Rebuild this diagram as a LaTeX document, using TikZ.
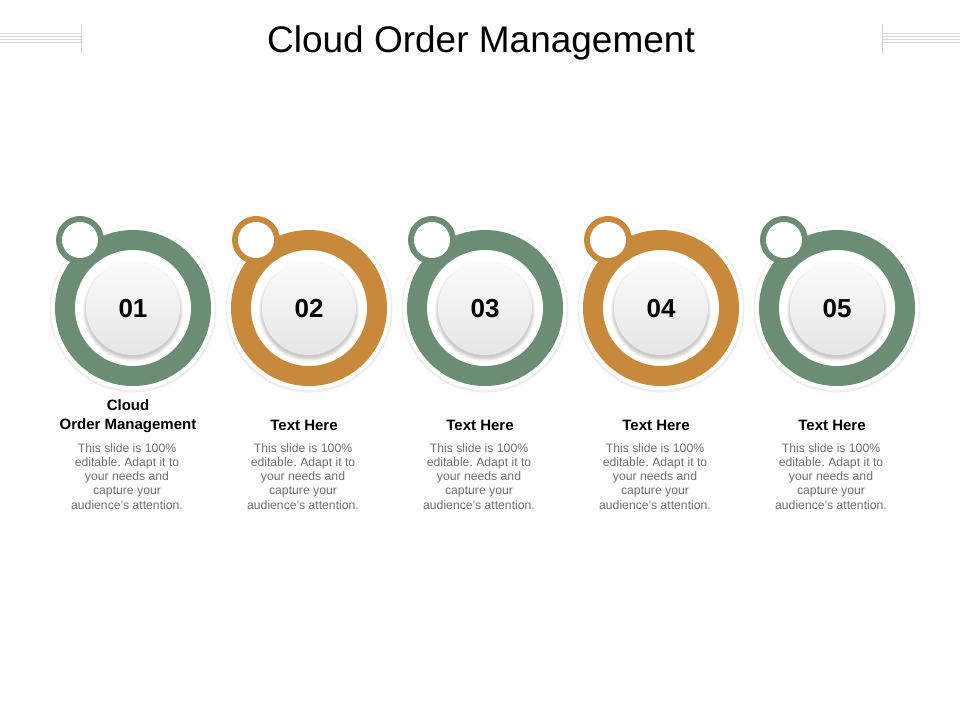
\documentclass[tikz,border=0pt]{standalone}
\usepackage{fontspec}
\setmainfont{Liberation Sans}
\usetikzlibrary{calc}
\definecolor{cgreen}{HTML}{6A8D73}
\definecolor{corange}{HTML}{C8893A}
\definecolor{bodygray}{HTML}{6E6E6E}
\begin{document}
\frenchspacing
\begin{tikzpicture}[x=1pt,y=-1pt,
  title/.style={font=\fontsize{37}{44}\selectfont, anchor=base, inner sep=0pt},
  num/.style={font=\bfseries\fontsize{26}{30}\selectfont, inner sep=0pt},
  head/.style={font=\bfseries\fontsize{15}{19}\selectfont, align=center, anchor=north, inner sep=0pt},
  body/.style={font=\fontsize{12.2}{14.3}\selectfont, text=bodygray, align=center, anchor=north, inner sep=0pt},
  deco/.style={draw=gray!30, line width=0.8pt}]
\useasboundingbox (0,0) rectangle (960,720);
\fill[white] (0,0) rectangle (960,720);

% decorative lines
\foreach \yy in {33,36,39,42} {
  \draw[deco] (0,\yy) -- (81,\yy);
  \draw[deco] (882,\yy) -- (960,\yy);
}
\draw[draw=gray!35, line width=0.8pt] (81,24) -- (81,54);
\draw[draw=gray!35, line width=0.8pt] (882,24) -- (882,54);

\node[title] (t) at (481,52) {Cloud Order Management};

\foreach \i/\x/\c in {1/133/cgreen,2/309/corange,3/485/cgreen,4/661/corange,5/837/cgreen} {
  \fill[gray!13] (\x,309) circle (83.5);
  \fill[white] (\x,308) circle (82);
  \fill[\c] (\x,308) circle (78);
  \fill[white] (\x,308) circle (58);
  \foreach \k in {1,...,6} {
    \fill[black,opacity=0.035] (\x,311) circle ({46+\k*0.7});
  }
  \shade[top color=gray!3, bottom color=gray!20] (\x,308) circle (47);
  \fill[\c] ($(\x,308)+(-53,-68)$) circle (24);
  \fill[white] ($(\x,308)+(-53,-68)$) circle (18);
  \node[num] (n\i) at (\x,309) {0\i};
  \node[body] (b\i) at ($(\x,443)+(-6,0)$) {This slide is 100\%\\editable. Adapt it to\\your needs and\\capture your\\audience's attention.};
}
\node[head] (h1) at (128,399) {Cloud\\Order Management};
\node[head] (h2) at (304,420) {Text Here};
\node[head] (h3) at (480,420) {Text Here};
\node[head] (h4) at (656,420) {Text Here};
\node[head] (h5) at (832,420) {Text Here};
\end{tikzpicture}
\end{document}
